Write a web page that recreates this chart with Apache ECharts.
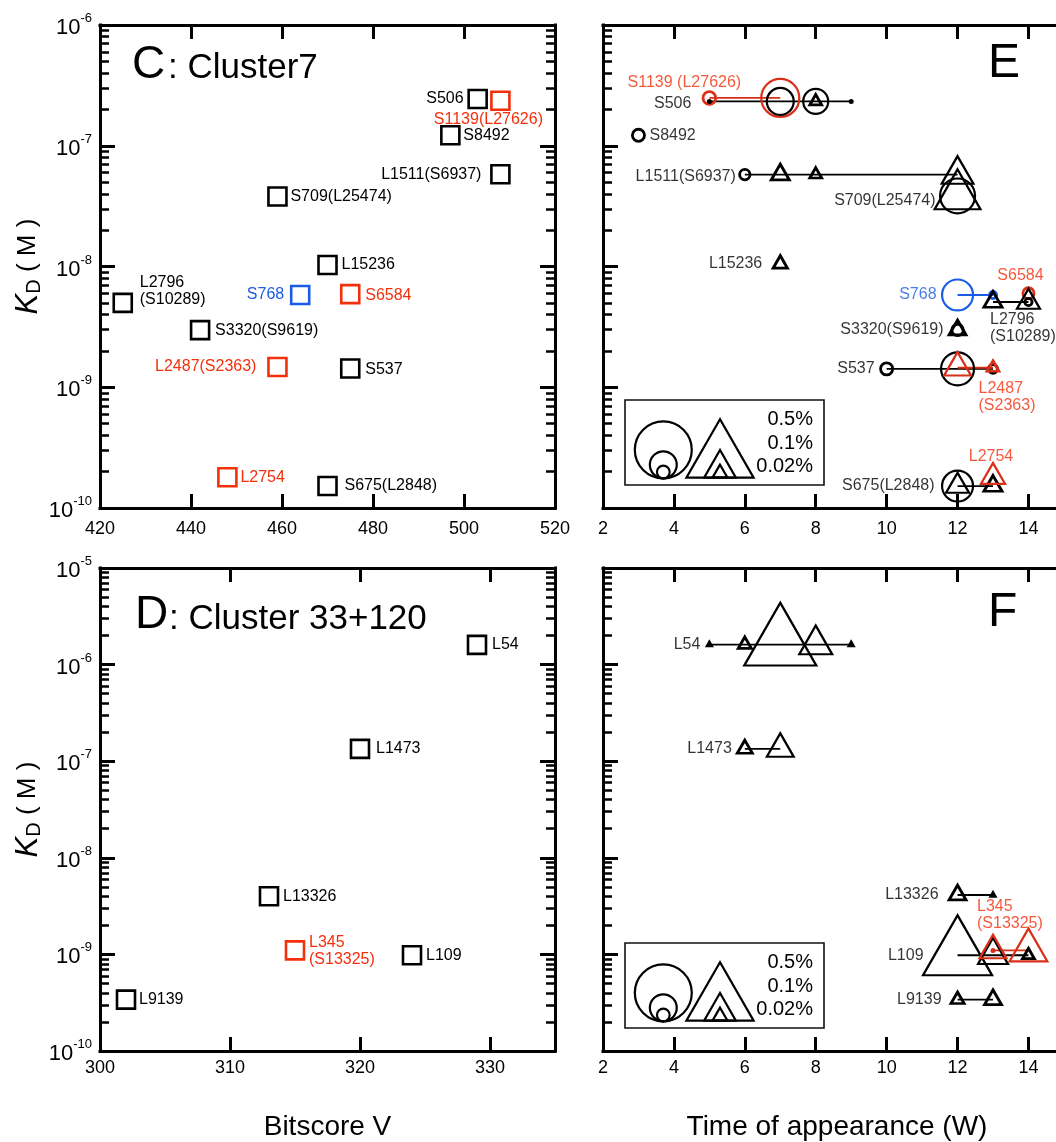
<!DOCTYPE html>
<html>
<head>
<meta charset="utf-8">
<script src="https://cdn.jsdelivr.net/npm/echarts@6/dist/echarts.min.js"></script>
<style>
html, body { margin: 0; padding: 0; background: #fff; }
#main { width: 1056px; height: 1142px; }
</style>
</head>
<body>
<div id="main"></div>
<script>
var FONT = '"Liberation Sans", Arial, Helvetica, sans-serif';
var TEXT_COLORS = {k: '#000000', r: '#f3300c', b: '#1a5ce8'};
var MARK_COLORS = {k: '#000000', r: '#d9301a', b: '#1a5ce8'};

// ---- C: Cluster7 (bitscore vs KD) ----
var cNames = ['S506', 'S1139(L27626)', 'S8492', 'L1511(S6937)', 'S709(L25474)', 'L15236', 'L2796\n(S10289)',
  'S768', 'S6584', 'S3320(S9619)', 'L2487(S2363)', 'S537', 'L2754', 'S675(L2848)'];
var cBitscore = [503, 508, 497, 508, 459, 470, 425, 464, 475, 442, 459, 475, 448, 470];
var cKd = [2.44e-7, 2.36e-7, 1.22e-7, 5.8e-8, 3.8e-8, 1.03e-8, 5.0e-9, 5.8e-9, 5.9e-9, 2.97e-9, 1.47e-9, 1.43e-9, 1.8e-10, 1.52e-10];
var cGroup = ['k', 'r', 'k', 'k', 'k', 'k', 'k', 'b', 'r', 'k', 'r', 'k', 'r', 'k'];

// ---- D: Cluster 33+120 ----
var dNames = ['L54', 'L1473', 'L13326', 'L345\n(S13325)', 'L109', 'L9139'];
var dBitscore = [329, 320, 313, 315, 324, 302];
var dKd = [1.6e-6, 1.34e-7, 4.0e-9, 1.1e-9, 0.98e-9, 3.4e-10];
var dGroup = ['k', 'k', 'k', 'r', 'k', 'k'];

// ---- E: time of appearance, cluster 7 ----
// marks: [week, kind, frequency %]; c = circle, t = triangle, dot/tri = trace
var eClones = ['S1139 (L27626)', 'S506', 'S8492', 'L1511(S6937)', 'S709(L25474)', 'L15236', 'S768', 'S6584',
  'L2796\n(S10289)', 'S3320(S9619)', 'S537', 'L2487\n(S2363)', 'S675(L2848)', 'L2754'];
var eKd = [2.49e-7, 2.33e-7, 1.22e-7, 5.77e-8, 3.84e-8, 1.05e-8, 5.81e-9, 6.0e-9, 5.08e-9, 2.98e-9, 1.42e-9, 1.45e-9, 1.52e-10, 1.81e-10];
var eGroup = ['r', 'k', 'k', 'k', 'k', 'k', 'b', 'r', 'k', 'k', 'k', 'r', 'k', 'r'];
var eMarks = [
  [[5, 'c', 0.02], [7, 'c', 0.21]],
  [[5, 'dot'], [7, 'c', 0.1], [8, 'c', 0.085], [8, 't', 0.012], [9, 'dot']],
  [[3, 'c', 0.018]],
  [[6, 'c', 0.013], [7, 't', 0.03], [8, 't', 0.012], [12, 't', 0.1]],
  [[12, 'c', 0.175], [12, 't', 0.22]],
  [[7, 't', 0.018]],
  [[12, 'c', 0.135], [13, 'c', 0.006]],
  [[14, 'c', 0.015]],
  [[13, 't', 0.03], [14, 't', 0.05], [14, 'c', 0.006]],
  [[12, 't', 0.026], [12, 'c', 0.016]],
  [[10, 'c', 0.018], [12, 'c', 0.155], [13, 'c', 0.009]],
  [[12, 't', 0.07], [13, 't', 0.012]],
  [[12, 'c', 0.135], [12, 't', 0.05], [13, 't', 0.03]],
  [[13, 't', 0.055]]
];

// ---- F: time of appearance, cluster 33+120 ----
var fClones = ['L54', 'L1473', 'L13326', 'L109', 'L345\n(S13325)', 'L9139'];
var fKd = [1.61e-6, 1.34e-7, 4.12e-9, 0.98e-9, 1.1e-9, 3.4e-10];
var fGroup = ['k', 'k', 'k', 'k', 'r', 'k'];
var fMarks = [
  [[5, 'tri'], [6, 't', 0.015], [7, 't', 0.58], [8, 't', 0.108], [9, 'tri']],
  [[6, 't', 0.02], [7, 't', 0.07]],
  [[12, 't', 0.026], [13, 'tri']],
  [[12, 't', 0.53], [13, 't', 0.088], [14, 't', 0.012]],
  [[13, 'dot'], [13, 't', 0.07], [14, 't', 0.145]],
  [[12, 't', 0.015], [13, 't', 0.026]]
];

var legendPct = [0.5, 0.1, 0.02];

// label placement (style): [dx, dy, align]
var cLabelAt = [[-14, 0, 'right'], [-12, 19, 'center'], [13, 0, 'left'], [-19, 0, 'right'], [13, 0, 'left'],
  [14, 0, 'left'], [17, -12, 'left'], [-16, 0, 'right'], [15, 1, 'left'], [15, 0, 'left'], [-21, 0, 'right'],
  [15, 1, 'left'], [13, 0, 'left'], [17, 0, 'left']];
var dLabelAt = [[15, 0, 'left'], [16, 0, 'left'], [14, 0, 'left'], [14, 1, 'left'], [14, 0, 'left'], [13, 0, 'left']];
var eLabelAt = [[-25, -15, 'center'], [-18, 2, 'right'], [11, 0, 'left'], [-9, 2, 'right'], [-22, 5, 'right'],
  [-18, 0, 'right'], [-21, 0, 'right'], [-8, -18, 'center'], [-3, 26, 'left'], [-14, 0, 'right'],
  [-12, 0, 'right'], [21, 29, 'left'], [-23, 0, 'right'], [-2, -20, 'center']];
var fLabelAt = [[-9, 0, 'right'], [-13, 0, 'right'], [-19, 0, 'right'], [-34, 0, 'right'], [-16, -35, 'left'], [-16, 0, 'right']];

function lg(v) { return Math.log10(v); }
// marker size from frequency (%)
function circleSize(f) { return 78.7 * Math.pow(f, 0.466); }
function triSize(f) { var w = 1.18 * circleSize(f); return [w, w * 0.87]; }

var grids = [
  {left: 100, top: 25, width: 455, height: 483, outerBoundsMode: 'none'},
  {left: 603, top: 25, width: 468, height: 483, outerBoundsMode: 'none'},
  {left: 100, top: 568, width: 455, height: 483, outerBoundsMode: 'none'},
  {left: 603, top: 568, width: 468, height: 483, outerBoundsMode: 'none'}
];

function xPair(g, min, max, step, margin, name) {
  var line = {onZero: false, lineStyle: {color: '#000', width: 3, cap: 'square'}};
  var tick = {inside: true, length: 14, lineStyle: {color: '#000', width: 3}};
  var bottom = {
    gridIndex: g, type: 'value', position: 'bottom', min: min, max: max, interval: step,
    axisLine: line, axisTick: tick, splitLine: {show: false},
    axisLabel: {margin: margin, fontSize: 18, color: '#000', fontFamily: FONT,
      formatter: function (v) { return Math.abs((v - min) % step) < 1e-9 ? String(v) : ''; }}
  };
  if (name) {
    bottom.name = name;
    bottom.nameLocation = 'middle';
    bottom.nameGap = 62;
    bottom.nameTextStyle = {fontSize: 28, color: '#000', fontFamily: FONT};
  }
  var top = {
    gridIndex: g, type: 'value', position: 'top', min: min, max: max, interval: step,
    axisLine: line, axisTick: tick, splitLine: {show: false}, axisLabel: {show: false}
  };
  return [bottom, top];
}

function yGroup(g, min, max, labels, withName) {
  var minor = [];
  for (var e = min; e < max; e++) {
    for (var k = 2; k < 10; k++) minor.push(e + Math.log10(k));
  }
  var axes = [];
  ['left', 'right'].forEach(function (pos) {
    axes.push({
      gridIndex: g, type: 'value', position: pos, min: min, max: max, interval: 1,
      axisLine: {onZero: false, lineStyle: {color: '#000', width: 3, cap: 'square'}},
      axisTick: {inside: true, length: 15, lineStyle: {color: '#000', width: 3}},
      splitLine: {show: false},
      axisLabel: {
        show: labels && pos === 'left', margin: 8, padding: [6, 0, 0, 0],
        formatter: function (v) { return '{b|10}{s|' + v + '}'; },
        rich: {
          b: {fontSize: 22, lineHeight: 32, fontFamily: FONT, color: '#000'},
          s: {fontSize: 13, lineHeight: 10, verticalAlign: 'top', fontFamily: FONT, color: '#000'}
        }
      }
    });
    axes.push({
      gridIndex: g, type: 'value', position: pos, min: min, max: max, interval: 1,
      axisLine: {show: false}, splitLine: {show: false}, axisLabel: {show: false},
      axisTick: {inside: true, length: 9, customValues: minor, lineStyle: {color: '#000', width: 2.5}}
    });
  });
  if (withName) {
    axes[0].name = '{k|K}{d|D}{m| ( M )}';
    axes[0].nameLocation = 'middle';
    axes[0].nameRotate = 90;
    axes[0].nameGap = 56;
    axes[0].nameTextStyle = {
      rich: {
        k: {fontSize: 31, fontStyle: 'italic', lineHeight: 32, fontFamily: FONT, color: '#000'},
        d: {fontSize: 20, lineHeight: 18, verticalAlign: 'bottom', fontFamily: FONT, color: '#000'},
        m: {fontSize: 26, lineHeight: 32, fontFamily: FONT, color: '#000'}
      }
    };
  }
  return axes;
}

function squareSeries(g, names, xs, kd, group, labelAt) {
  return {
    type: 'scatter', xAxisIndex: g * 2, yAxisIndex: g * 4, symbol: 'rect', symbolSize: 18, z: 3,
    itemStyle: {opacity: 1},
    data: names.map(function (n, i) {
      var p = labelAt[i];
      return {
        name: n, value: [xs[i], lg(kd[i])],
        itemStyle: {color: 'rgba(0,0,0,0)', borderColor: TEXT_COLORS[group[i]], borderWidth: 2.6, opacity: 1},
        label: {show: true, position: 'inside', formatter: '{b}', offset: [p[0], p[1]], align: p[2],
          verticalAlign: 'middle', color: TEXT_COLORS[group[i]], fontSize: 16, lineHeight: 17, fontFamily: FONT}
      };
    })
  };
}

function markItem(m, y, color) {
  var kind = m[1];
  if (kind === 'dot') {
    return {value: [m[0], y], symbol: 'circle', symbolSize: 5, itemStyle: {color: color, opacity: 1}};
  }
  if (kind === 'tri') {
    return {value: [m[0], y], symbol: 'triangle', symbolSize: [9, 8], symbolOffset: [0, -1.3], itemStyle: {color: color, opacity: 1}};
  }
  if (kind === 'c') {
    var d = circleSize(m[2]);
    return {value: [m[0], y], symbol: 'circle', symbolSize: d,
      itemStyle: {color: 'rgba(0,0,0,0)', borderColor: color, borderWidth: d < 16 ? 2.8 : 2.2, opacity: 1}};
  }
  var s = triSize(m[2]);
  return {value: [m[0], y], symbol: 'triangle', symbolSize: s, symbolOffset: [0, -s[1] / 6],
    itemStyle: {color: 'rgba(0,0,0,0)', borderColor: color, borderWidth: s[0] < 20 ? 2.8 : 2.2, opacity: 1}};
}

function rowSeries(g, clones, kd, group, marks, labelAt) {
  var xi = g * 2, yi = g * 4, out = [], labelData = [];
  clones.forEach(function (name, i) {
    var y = lg(kd[i]);
    var weeks = marks[i].map(function (m) { return m[0]; });
    var w0 = Math.min.apply(null, weeks), w1 = Math.max.apply(null, weeks);
    var col = MARK_COLORS[group[i]];
    if (w1 > w0) {
      out.push({type: 'line', xAxisIndex: xi, yAxisIndex: yi, z: 2, symbol: 'none', silent: true,
        lineStyle: {color: col, width: 1.8, opacity: 1}, data: [[w0, y], [w1, y]]});
    }
    out.push({type: 'scatter', xAxisIndex: xi, yAxisIndex: yi, z: 3, itemStyle: {opacity: 1},
      data: marks[i].map(function (m) { return markItem(m, y, col); })});
    var p = labelAt[i];
    labelData.push({name: name, value: [w0, y],
      label: {offset: [p[0], p[1]], align: p[2], color: TEXT_COLORS[group[i]]}});
  });
  out.push({type: 'scatter', xAxisIndex: xi, yAxisIndex: yi, z: 4, symbolSize: 1,
    itemStyle: {color: 'rgba(0,0,0,0)'},
    label: {show: true, position: 'inside', formatter: '{b}', verticalAlign: 'middle',
      fontSize: 16, lineHeight: 17, fontFamily: FONT},
    data: labelData});
  return out;
}

function legendGraphic(top) {
  var els = [{type: 'rect', shape: {x: 625, y: top, width: 199, height: 85},
    style: {fill: 'none', stroke: '#111', lineWidth: 1.6}}];
  legendPct.forEach(function (p, i) {
    var d = circleSize(p);
    els.push({type: 'circle', shape: {cx: 663.3, cy: top + 78.3 - d / 2, r: d / 2},
      style: {fill: 'none', stroke: '#000', lineWidth: 2.2}});
    var s = triSize(p), base = top + 77.7;
    els.push({type: 'polygon', shape: {points: [[720, base - s[1]], [720 - s[0] / 2, base], [720 + s[0] / 2, base]]},
      style: {fill: 'none', stroke: '#000', lineWidth: 2.2}});
    els.push({type: 'text', x: 813, y: top + [19, 43, 66][i],
      style: {text: p + '%', fontSize: 20, fontFamily: FONT, fill: '#000', align: 'right', verticalAlign: 'middle'}});
  });
  return els;
}

function titleText(x, y, text, size) {
  return {type: 'text', x: x, y: y,
    style: {text: text, fontSize: size, fontFamily: FONT, fill: '#000', align: 'left', verticalAlign: 'middle'}};
}

var xAxes = [].concat(
  xPair(0, 420, 520, 20, 12),
  xPair(1, 2, 15.2, 2, 12),
  xPair(2, 300, 335, 10, 8, 'Bitscore V'),
  xPair(3, 2, 15.2, 2, 8, 'Time of appearance (W)')
);
var yAxes = [].concat(
  yGroup(0, -10, -6, true, true),
  yGroup(1, -10, -6, false, false),
  yGroup(2, -10, -5, true, true),
  yGroup(3, -10, -5, false, false)
);

var series = [
  squareSeries(0, cNames, cBitscore, cKd, cGroup, cLabelAt),
  squareSeries(2, dNames, dBitscore, dKd, dGroup, dLabelAt)
].concat(
  rowSeries(1, eClones, eKd, eGroup, eMarks, eLabelAt),
  rowSeries(3, fClones, fKd, fGroup, fMarks, fLabelAt)
);

var graphics = [
  titleText(132, 65, 'C', 46),
  titleText(168, 68.5, ': Cluster7', 35),
  titleText(135, 615, 'D', 46),
  titleText(169, 619.5, ': Cluster 33+120', 35),
  titleText(988, 63.5, 'E', 48),
  titleText(988, 613, 'F', 48)
].concat(legendGraphic(400), legendGraphic(943));

var chart = echarts.init(document.getElementById('main'));
chart.setOption({
  animation: false,
  backgroundColor: '#fff',
  textStyle: {fontFamily: FONT},
  grid: grids,
  xAxis: xAxes,
  yAxis: yAxes,
  series: series,
  graphic: {elements: graphics}
});
</script>
</body>
</html>
